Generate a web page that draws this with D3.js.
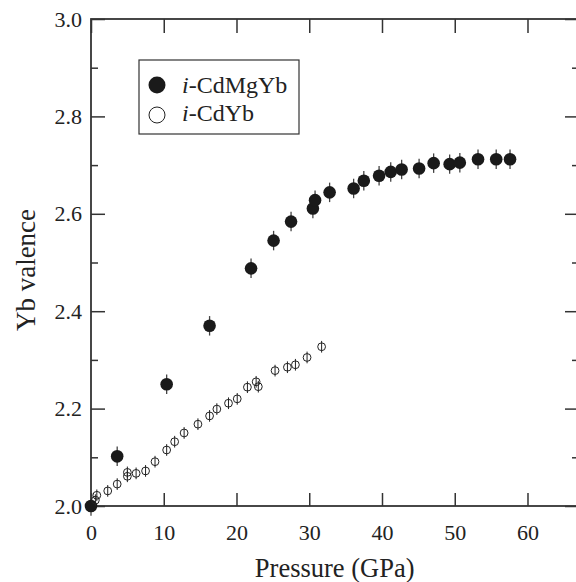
<!DOCTYPE html>
<html>
<head>
<meta charset="utf-8">
<script src="https://cdn.jsdelivr.net/npm/d3@7"></script>
<style>
  body { margin: 0; background: #fff; }
  svg { display: block; }
  svg text { font-family: 'Liberation Serif', serif !important; }
</style>
</head>
<body>
<div class="container"></div>
<script>
// i-CdMgYb (filled)
const pressureMg = [0, 3.6, 10.4, 16.3, 22.0, 25.1, 27.5, 30.5, 30.8, 32.8, 36.1, 37.5, 39.6, 41.2, 42.7, 45.1, 47.1, 49.3, 50.7, 53.2, 55.7, 57.6];
const valenceMg = [2.000, 2.102, 2.250, 2.370, 2.488, 2.545, 2.584, 2.611, 2.628, 2.644, 2.652, 2.668, 2.678, 2.686, 2.691, 2.693, 2.704, 2.702, 2.705, 2.712, 2.712, 2.712];
const errMg = 0.02;

// i-CdYb (open)
const pressureCd = [0.6, 0.8, 2.3, 3.6, 5.0, 5.0, 6.2, 7.5, 8.8, 10.4, 11.5, 12.8, 14.7, 16.3, 17.3, 18.9, 20.1, 21.5, 22.7, 23.0, 25.3, 27.0, 28.1, 29.7, 31.7];
const valenceCd = [2.012, 2.022, 2.031, 2.045, 2.061, 2.069, 2.067, 2.072, 2.091, 2.115, 2.132, 2.150, 2.168, 2.185, 2.199, 2.211, 2.220, 2.244, 2.255, 2.245, 2.278, 2.285, 2.290, 2.305, 2.327];
const errCd = 0.012;

const xTicks = [0, 10, 20, 30, 40, 50, 60];
const yTicks = [2.0, 2.2, 2.4, 2.6, 2.8, 3.0];
const yMinor = [2.1, 2.3, 2.5, 2.7, 2.9];
const legendLabels = ['CdMgYb', 'CdYb'];

const width = 576;
const height = 582;
const margin = { top: 19, right: -3, bottom: 76, left: 91 };
const innerW = width - margin.left - margin.right;
const innerH = height - margin.top - margin.bottom;
const fonte = 'Liberation Serif';

const svg = d3.select('.container')
  .append('svg')
  .attr('width', width)
  .attr('height', height);

const g = svg.append('g')
  .attr('transform', `translate(${margin.left},${margin.top})`);

const x = d3.scaleLinear().domain([0, 67.08]).range([0, innerW]);
const y = d3.scaleLinear().domain([2.0, 3.0]).range([innerH, 0]);

const axisColor = '#333';

// eixos
function styleAxis(sel) {
  sel.attr('font-family', null);
  sel.select('.domain').remove();
  sel.selectAll('.tick line').attr('stroke', axisColor).attr('stroke-width', 1.5);
  sel.selectAll('.tick text')
    .style('font-family', fonte)
    .attr('fill', '#222')
    .attr('font-size', 22);
}

g.append('g')
  .attr('transform', `translate(0,${innerH})`)
  .call(d3.axisBottom(x).tickValues(xTicks).tickSize(-13).tickPadding(18).tickFormat(d3.format('d')))
  .call(styleAxis);

g.append('g')
  .call(d3.axisTop(x).tickValues(xTicks).tickSize(-14).tickFormat(''))
  .call(styleAxis);

g.append('g')
  .call(d3.axisLeft(y).tickValues(yTicks).tickSize(-14).tickPadding(9).tickFormat(d3.format('.1f')))
  .call(styleAxis);

g.append('g')
  .call(d3.axisLeft(y).tickValues(yMinor).tickSize(-7).tickFormat(''))
  .call(styleAxis);

g.append('g')
  .attr('transform', `translate(${innerW},0)`)
  .call(d3.axisRight(y).tickValues(yTicks).tickSize(-14).tickFormat(''))
  .call(styleAxis);

g.append('g')
  .attr('transform', `translate(${innerW},0)`)
  .call(d3.axisRight(y).tickValues(yMinor).tickSize(-7).tickFormat(''))
  .call(styleAxis);

// moldura
g.append('rect')
  .attr('width', innerW)
  .attr('height', innerH)
  .attr('fill', 'none')
  .attr('stroke', axisColor)
  .attr('stroke-width', 1.8);

// dados
const mg = pressureMg.map((p, i) => ({ p, v: valenceMg[i] }));
const cd = pressureCd.map((p, i) => ({ p, v: valenceCd[i] }));

const pts = g.append('g');

pts.selectAll('.err-mg')
  .data(mg)
  .enter()
  .append('line')
  .attr('x1', d => x(d.p))
  .attr('x2', d => x(d.p))
  .attr('y1', d => y(d.v - errMg))
  .attr('y2', d => y(d.v + errMg))
  .attr('stroke', '#444')
  .attr('stroke-width', 1.3);

pts.selectAll('.pt-mg')
  .data(mg)
  .enter()
  .append('circle')
  .attr('cx', d => x(d.p))
  .attr('cy', d => y(d.v))
  .attr('r', 6.3)
  .attr('fill', '#1a1a1a');

pts.selectAll('.pt-cd')
  .data(cd)
  .enter()
  .append('circle')
  .attr('cx', d => x(d.p))
  .attr('cy', d => y(d.v))
  .attr('r', 3.9)
  .attr('fill', 'none')
  .attr('stroke', '#222')
  .attr('stroke-width', 1);

pts.selectAll('.err-cd')
  .data(cd)
  .enter()
  .append('line')
  .attr('x1', d => x(d.p))
  .attr('x2', d => x(d.p))
  .attr('y1', d => y(d.v - errCd))
  .attr('y2', d => y(d.v + errCd))
  .attr('stroke', '#222')
  .attr('stroke-width', 1);

// títulos
svg.append('text')
  .attr('x', margin.left + x(33.5))
  .attr('y', 577)
  .attr('text-anchor', 'middle')
  .attr('font-size', 26.5)
  .attr('fill', '#222')
  .style('font-family', fonte)
  .text('Pressure (GPa)');

svg.append('text')
  .attr('transform', 'translate(35,270) rotate(-90)')
  .attr('text-anchor', 'middle')
  .attr('font-size', 27)
  .attr('fill', '#222')
  .style('font-family', fonte)
  .text('Yb valence');

// legenda
const legenda = svg.append('g')
  .attr('transform', 'translate(139,60)');

legenda.append('rect')
  .attr('width', 160)
  .attr('height', 74)
  .attr('fill', '#fff')
  .attr('stroke', axisColor)
  .attr('stroke-width', 1.2);

legenda.append('circle')
  .attr('cx', 18)
  .attr('cy', 25)
  .attr('r', 8.5)
  .attr('fill', '#1a1a1a');

legenda.append('circle')
  .attr('cx', 18)
  .attr('cy', 55)
  .attr('r', 8)
  .attr('fill', 'none')
  .attr('stroke', '#222')
  .attr('stroke-width', 1);

legendLabels.forEach((lab, i) => {
  const t = legenda.append('text')
    .attr('x', 43)
    .attr('y', 33 + i * 28)
    .attr('font-size', 24)
    .attr('fill', '#222')
    .style('font-family', fonte);
  t.append('tspan').attr('font-style', 'italic').text('i');
  t.append('tspan').text('-' + lab);
});
</script>
</body>
</html>
